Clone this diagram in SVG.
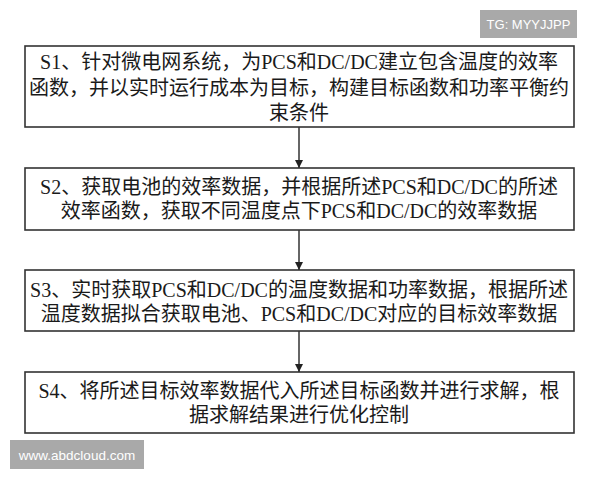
<svg xmlns="http://www.w3.org/2000/svg" width="600" height="480" viewBox="0 0 600 480">
<defs>
<style>
.box{fill:#fff;stroke:#333;stroke-width:1.6}
.t{font-family:"Liberation Serif","Noto Sans CJK SC",serif;font-size:20px;fill:#1a1a1a;text-anchor:middle}
.conn{stroke:#333;stroke-width:1.5;fill:none}
.badge{fill:#a9a9a9}
.bt{font-family:"Liberation Sans","DejaVu Sans",sans-serif;fill:#fff;text-anchor:middle}
</style>
<marker id="ah" viewBox="0 0 10 10" refX="10" refY="5" markerWidth="8" markerHeight="8" markerUnits="userSpaceOnUse" orient="auto">
<path d="M0,0 L10,5 L0,10 Z" fill="#222"/>
</marker>
</defs>
<rect width="600" height="480" fill="#fff"/>
<g id="s1">
<rect class="box" x="25" y="46" width="549" height="81"/>
<text class="t" x="299" y="69">S1、针对微电网系统，为PCS和DC/DC建立包含温度的效率</text>
<text class="t" x="299" y="95">函数，并以实时运行成本为目标，构建目标函数和功率平衡约</text>
<text class="t" x="299" y="120">束条件</text>
</g>
<g id="s2">
<rect class="box" x="25" y="168" width="549" height="62"/>
<text class="t" x="299" y="194">S2、获取电池的效率数据，并根据所述PCS和DC/DC的所述</text>
<text class="t" x="299" y="218">效率函数，获取不同温度点下PCS和DC/DC的效率数据</text>
</g>
<g id="s3">
<rect class="box" x="25" y="270" width="549" height="61"/>
<text class="t" x="299" y="297">S3、实时获取PCS和DC/DC的温度数据和功率数据，根据所述</text>
<text class="t" x="299" y="321">温度数据拟合获取电池、PCS和DC/DC对应的目标效率数据</text>
</g>
<g id="s4">
<rect class="box" x="25" y="372" width="549" height="61"/>
<text class="t" x="299" y="398">S4、将所述目标效率数据代入所述目标函数并进行求解，根</text>
<text class="t" x="299" y="422">据求解结果进行优化控制</text>
</g>
<g id="connectors">
<line class="conn" x1="299" y1="127" x2="299" y2="168" marker-end="url(#ah)"/>
<line class="conn" x1="299" y1="230" x2="299" y2="270" marker-end="url(#ah)"/>
<line class="conn" x1="299" y1="331" x2="299" y2="372" marker-end="url(#ah)"/>
</g>
<g id="badge-tg">
<rect class="badge" x="480" y="10" width="97" height="28"/>
<text class="bt" x="528.5" y="29" font-size="13">TG: MYYJJPP</text>
</g>
<g id="badge-web">
<rect class="badge" x="10" y="440" width="134" height="29"/>
<text class="bt" x="77" y="459.5" font-size="13.5">www.abdcloud.com</text>
</g>
</svg>
